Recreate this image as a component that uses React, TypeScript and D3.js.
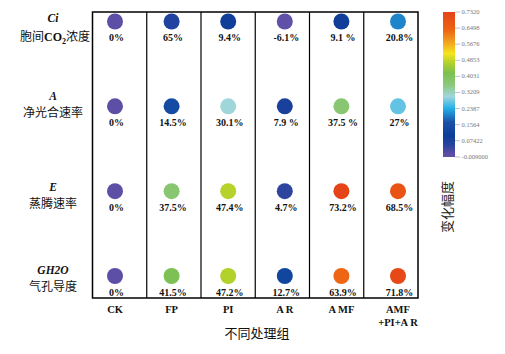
import React from "react";
import * as d3 from "d3";

const treatments = ["CK", "FP", "PI", "AR", "AMF", "AMF+PI+AR"];
const treatmentLines: string[][] = [["CK"], ["FP"], ["PI"], ["A R"], ["A MF"], ["AMF", "+PI+A R"]];
const indicators = ["Ci", "A", "E", "GH2O"];
const indicatorNames = ["胞间CO2浓度", "净光合速率", "蒸腾速率", "气孔导度"];

const ciValues = [0, 0.065, 0.094, -0.061, 0.091, 0.208];
const ciLabels = ["0%", "65%", "9.4%", "-6.1%", "9.1 %", "20.8%"];
const aValues = [0, 0.145, 0.301, 0.079, 0.375, 0.27];
const aLabels = ["0%", "14.5%", "30.1%", "7.9 %", "37.5 %", "27%"];
const eValues = [0, 0.375, 0.474, 0.047, 0.732, 0.685];
const eLabels = ["0%", "37.5%", "47.4%", "4.7%", "73.2%", "68.5%"];
const gValues = [0, 0.415, 0.472, 0.127, 0.639, 0.718];
const gLabels = ["0%", "41.5%", "47.2%", "12.7%", "63.9%", "71.8%"];

const colorStops = [-0.009, 0.01, 0.05, 0.1, 0.17, 0.24, 0.3, 0.36, 0.42, 0.47, 0.52, 0.58, 0.64, 0.732];
const colorList = ["#6050a8", "#5a4ca4", "#2a44a0", "#0c3d98", "#1a52a8", "#24b0e8", "#9fd6dc", "#8cc87c", "#7cc050", "#b0d02c", "#f5e51c", "#f0a020", "#ee6414", "#e44418"];
const colorTicks = [0.732, 0.6498, 0.5676, 0.4853, 0.4031, 0.3209, 0.2387, 0.1564, 0.07422, -0.009];
const colorTickLabels = ["0.7320", "0.6498", "0.5676", "0.4853", "0.4031", "0.3209", "0.2387", "0.1564", "0.07422", "-0.009000"];

const rowValues = [ciValues, aValues, eValues, gValues];
const rowLabels = [ciLabels, aLabels, eLabels, gLabels];

const serif = "'Liberation Serif', 'Times New Roman', serif";
const cjk = "'Noto Sans CJK SC', sans-serif";

export default function App() {
  const W = 505, H = 354;
  const left = 92.5, right = 418, top = 12, bottom = 298;
  const xBand = d3.scaleBand<string>().domain(treatments).range([left, right]);
  const xDot = d3.scalePoint<string>().domain(treatments).range([115, 398]);
  const yRow = d3.scalePoint<string>().domain(indicators).range([21.5, 276]);
  const color = d3.scaleLinear<string>().domain(colorStops).range(colorList).clamp(true);
  const cbY = d3.scaleLinear().domain([-0.009, 0.732]).range([157, 12]);
  const cbX = 443, cbW = 12;
  const titleY: Record<string, number> = { Ci: 18, A: 96, E: 187, GH2O: 270 };
  const nameY: Record<string, number> = { Ci: 37, A: 113, E: 204, GH2O: 287 };

  return (
    <svg width={W} height={H} style={{ position: "absolute", left: 0, top: 0, background: "#fff" }}>
      <defs>
        <linearGradient id="cb" x1="0" y1="1" x2="0" y2="0">
          {colorStops.map((s, i) => (
            <stop key={i} offset={(s - colorStops[0]) / (colorStops[colorStops.length - 1] - colorStops[0])} stopColor={colorList[i]} />
          ))}
        </linearGradient>
      </defs>
      {treatments.slice(1).map((t) => (
        <line key={t} x1={xBand(t)} x2={xBand(t)} y1={top} y2={bottom} stroke="#000" strokeWidth={1.2} />
      ))}
      <rect x={left} y={top} width={right - left} height={bottom - top} fill="none" stroke="#000" strokeWidth={1.5} />
      {indicators.map((ind, r) => (
        <g key={ind}>
          {treatments.map((t, c) => (
            <g key={t}>
              <circle cx={xDot(t)} cy={yRow(ind)} r={8} fill={color(rowValues[r][c])} />
              <text x={(xDot(t) as number) + 1.5} y={(yRow(ind) as number) + 19.5} textAnchor="middle" fontFamily={serif} fontWeight="bold" fontSize={10} fill="#111">
                {rowLabels[r][c]}
              </text>
            </g>
          ))}
        </g>
      ))}
      {indicators.map((ind, r) => (
        <g key={ind}>
          <text x={53} y={titleY[ind] + 4} textAnchor="middle" fontFamily={serif} fontWeight="bold" fontStyle="italic" fontSize={11.5} fill="#111">
            {ind}
          </text>
          {ind === "Ci" ? (
            <text x={55} y={nameY[ind] + 4} textAnchor="middle" fontSize={12} fill="#111">
              <tspan fontFamily={cjk}>胞间</tspan>
              <tspan fontFamily={serif} fontWeight="bold">CO</tspan>
              <tspan fontFamily={serif} fontWeight="bold" fontSize={8} dy={3}>2</tspan>
              <tspan fontFamily={cjk} dy={-3}>浓度</tspan>
            </text>
          ) : (
            <text x={53} y={nameY[ind] + 4} textAnchor="middle" fontFamily={cjk} fontSize={12} fill="#111">
              {indicatorNames[r]}
            </text>
          )}
        </g>
      ))}
      {treatments.map((t, i) => (
        <text key={t} x={xDot(t)} y={313} textAnchor="middle" fontFamily={serif} fontWeight="bold" fontSize={10.5} fill="#111">
          {treatmentLines[i].map((ln, j) => (
            <tspan key={j} x={xDot(t)} dy={j === 0 ? 0 : 13}>{ln}</tspan>
          ))}
        </text>
      ))}
      <text x={257} y={338} textAnchor="middle" fontFamily={cjk} fontSize={13} fill="#111">不同处理组</text>
      <rect x={cbX} y={cbY(0.732)} width={cbW} height={cbY(-0.009) - cbY(0.732)} fill="url(#cb)" />
      {colorTicks.map((v, i) => (
        <g key={i}>
          <line x1={cbX + cbW} x2={cbX + cbW + 5} y1={cbY(v)} y2={cbY(v)} stroke="#999" strokeWidth={0.6} />
          <text x={cbX + cbW + 6.5} y={cbY(v) + 2} fontFamily={serif} fontSize={6.5} fill="#777">{colorTickLabels[i]}</text>
        </g>
      ))}
      <text transform="translate(452,207) rotate(-90)" textAnchor="middle" fontFamily={cjk} fontSize={13} fill="#222">变化幅度</text>
    </svg>
  );
}
